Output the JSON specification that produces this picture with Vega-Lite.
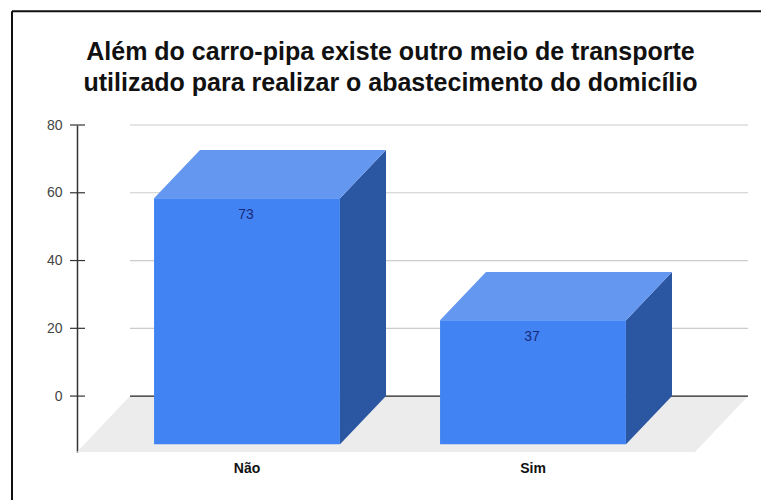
{"$schema":"https://vega.github.io/schema/vega-lite/v6.json","width":671,"height":327,"autosize":"none","padding":{"left":77,"top":125,"right":13,"bottom":48},"background":"#ffffff","config":{"view":{"stroke":null},"font":"Liberation Sans"},"title":{"text":["Além do carro-pipa existe outro meio de transporte","utilizado para realizar o abastecimento do domicílio"],"anchor":"middle","frame":"group","dx":-22,"dy":86,"offset":0,"font":"Liberation Sans","fontSize":25,"fontWeight":"bold","color":"#111111","lineHeight":31},"resolve":{"scale":{"x":"independent"}},"layer":[{"data":{"values":[{"x":-65,"x2":684,"y":113.6,"y2":113.6},{"x":-65,"x2":-65,"y":113.6,"y2":-30.7}]},"mark":{"type":"rule","color":"#111111","strokeWidth":2,"clip":false},"encoding":{"x":{"field":"x","type":"quantitative","axis":null,"scale":{"domain":[0,671]}},"x2":{"field":"x2"},"y":{"field":"y","type":"quantitative","scale":{"domain":[-16.5,80],"nice":false,"zero":false},"axis":{"values":[0,20,40,60,80],"title":null,"grid":false,"ticks":false,"labelPadding":15,"labelFont":"Liberation Sans","labelFontSize":14,"labelColor":"#444444","domainColor":"#333333","domainWidth":1.5}},"y2":{"field":"y2"}}},{"data":{"values":[{"x":0,"low":-16.5,"high":-16.5},{"x":53,"low":-16.5,"high":0},{"x":618,"low":-16.5,"high":0},{"x":671,"low":0,"high":0}]},"mark":{"type":"area","orient":"vertical","color":"#ececec"},"encoding":{"x":{"field":"x","type":"quantitative","axis":null,"scale":{"domain":[0,671]}},"y":{"field":"low","type":"quantitative"},"y2":{"field":"high"}}},{"data":{"values":[{"v":20},{"v":40},{"v":60},{"v":80}]},"mark":{"type":"rule","color":"#cccccc","strokeWidth":1.2},"encoding":{"x":{"datum":53,"type":"quantitative","axis":null,"scale":{"domain":[0,671]}},"x2":{"datum":671},"y":{"field":"v","type":"quantitative"}}},{"data":{"values":[{"v":0}]},"mark":{"type":"rule","color":"#222222","strokeWidth":1.2},"encoding":{"x":{"datum":53,"type":"quantitative","axis":null,"scale":{"domain":[0,671]}},"x2":{"datum":671},"y":{"field":"v","type":"quantitative"}}},{"data":{"values":[{"v":0},{"v":20},{"v":40},{"v":60},{"v":80}]},"mark":{"type":"rule","color":"#333333","strokeWidth":1.2},"encoding":{"x":{"datum":-7,"type":"quantitative","axis":null,"scale":{"domain":[0,671]}},"x2":{"datum":8},"y":{"field":"v","type":"quantitative"}}},{"data":{"values":[{"cat":"Não","x":263,"low":-14.2,"high":58.4},{"cat":"Não","x":309,"low":0,"high":72.6},{"cat":"Sim","x":549,"low":-14.2,"high":22.4},{"cat":"Sim","x":595,"low":0,"high":36.6}]},"mark":{"type":"area","orient":"vertical","color":"#2a56a2"},"encoding":{"x":{"field":"x","type":"quantitative","axis":null,"scale":{"domain":[0,671]}},"y":{"field":"low","type":"quantitative"},"y2":{"field":"high"},"detail":{"field":"cat"}}},{"data":{"values":[{"cat":"Não","x":77,"low":58.4,"high":58.4},{"cat":"Não","x":123,"low":58.4,"high":72.6},{"cat":"Não","x":263,"low":58.4,"high":72.6},{"cat":"Não","x":309,"low":72.6,"high":72.6},{"cat":"Sim","x":363,"low":22.4,"high":22.4},{"cat":"Sim","x":409,"low":22.4,"high":36.6},{"cat":"Sim","x":549,"low":22.4,"high":36.6},{"cat":"Sim","x":595,"low":36.6,"high":36.6}]},"mark":{"type":"area","orient":"vertical","color":"#6497ef"},"encoding":{"x":{"field":"x","type":"quantitative","axis":null,"scale":{"domain":[0,671]}},"y":{"field":"low","type":"quantitative"},"y2":{"field":"high"},"detail":{"field":"cat"}}},{"data":{"values":[{"cat":"Não","base":-14.2,"top":58.4}, {"cat":"Sim","base":-14.2,"top":22.4}]},"mark":{"type":"bar","color":"#4283f3"},"encoding":{"x":{"field":"cat","type":"nominal","sort":null,"scale":{"domain":["Não","Sim"],"range":[27,599],"paddingInner":0.35,"paddingOuter":0.175},"axis":{"title":null,"orient":"bottom","labelAngle":0,"ticks":false,"domain":false,"labelPadding":9,"labelFont":"Liberation Sans","labelFontSize":14,"labelFontWeight":"bold","labelColor":"#111111"}},"y":{"field":"top","type":"quantitative"},"y2":{"field":"base"}}},{"data":{"values":[{"cat":"Não","top":58.4,"label":"73"},{"cat":"Sim","top":22.4,"label":"37"}]},"mark":{"type":"text","font":"Liberation Sans","fontSize":14,"color":"#1a2a7a","baseline":"middle","dy":17,"dx":-1},"encoding":{"x":{"field":"cat","type":"nominal","sort":null,"axis":null,"scale":{"domain":["Não","Sim"],"range":[27,599],"paddingInner":0.35,"paddingOuter":0.175}},"y":{"field":"top","type":"quantitative"},"text":{"field":"label"}}}]}
